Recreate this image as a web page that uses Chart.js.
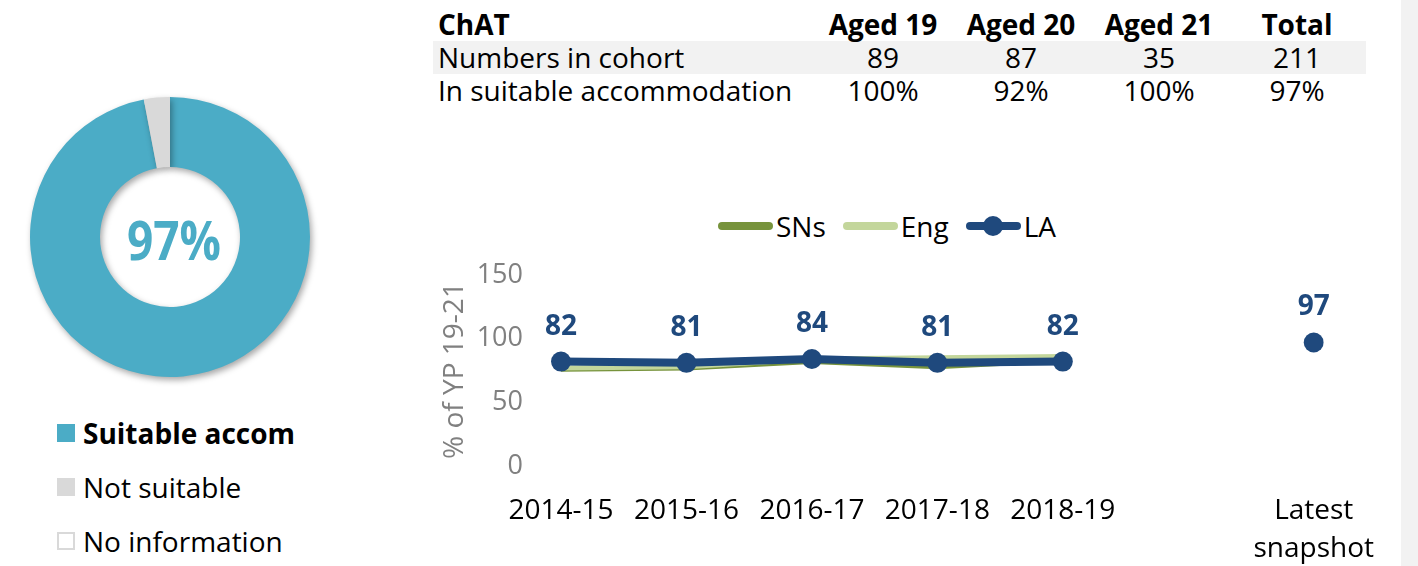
<!DOCTYPE html>
<html>
<head>
<meta charset="utf-8">
<script src="https://cdn.jsdelivr.net/npm/chart.js@4.4.1/dist/chart.umd.min.js"></script>
<style>
  html, body { margin: 0; padding: 0; background: #fff; }
  body { width: 1418px; height: 566px; position: relative; overflow: hidden;
         font-family: 'Open Sans', 'Noto Sans', sans-serif; color: #000; }
  #sideStrip { position: absolute; left: 1401px; top: 0; width: 17px; height: 566px; background: #f2f2f2; }
  #donutWrap { position: absolute; left: 20px; top: 87px; width: 300px; height: 300px; }
  #donutLegend { position: absolute; left: 57px; top: 406px; font-size: 28px; }
  #donutLegend .item { height: 54px; display: flex; align-items: center; }
  #donutLegend .box { width: 18px; height: 18px; margin-right: 8px; box-sizing: border-box; }
  #cohortTable { position: absolute; left: 433px; top: 8px; border-collapse: collapse; font-size: 28px; }
  #cohortTable td { padding: 0; height: 33px; line-height: 33px; white-space: nowrap; }
  #cohortTable td.num { width: 138px; text-align: center; }
  #cohortTable td.lbl { width: 376px; padding-left: 5px; }
  #cohortTable tr.hdr td { font-weight: bold; }
  #cohortTable tr.band td { background: #f2f2f2; }
  #lineLegend { position: absolute; left: 718px; top: 207px; font-size: 28px; display: flex; align-items: center; height: 38px; }
  #lineLegend .item { display: flex; align-items: center; margin-right: 17px; }
  #lineLegend .swatch { position: relative; width: 55px; height: 8px; border-radius: 4px; margin-right: 3px; }
  #lineLegend .dot { position: absolute; left: 17px; top: -6px; width: 20px; height: 20px; border-radius: 50%; }
  #lineWrap { position: absolute; left: 420px; top: 191px; width: 980px; height: 375px; }
</style>
</head>
<body>
<div id="sideStrip"></div>
<table id="cohortTable"></table>
<div id="donutWrap"><canvas id="donutChart"></canvas></div>
<div id="donutLegend"></div>
<div id="lineLegend"></div>
<div id="lineWrap"><canvas id="trendChart"></canvas></div>

<script>
// Cohort table
var tableTitle = 'ChAT';
var ageGroups = ['Aged 19', 'Aged 20', 'Aged 21', 'Total'];
var cohortNumbers = [89, 87, 35, 211];
var suitablePct = [100, 92, 100, 97];

// Accommodation split (latest)
var accomLabels = ['Suitable accom', 'Not suitable', 'No information'];
var accomValues = [97, 3, 0];
var accomColors = ['#4BACC6', '#D9D9D9', '#FFFFFF'];
var headlinePct = 97;

// Trend over years
var years = ['2014-15', '2015-16', '2016-17', '2017-18', '2018-19', '', ['Latest', 'snapshot']];
var snsValues = [76, 77, 82, 78, 83, null, null];
var engValues = [77, 78, 84, 85, 86, null, null];
var laValues  = [82, 81, 84, 81, 82, null, 97];
var yTicks = [0, 50, 100, 150];

var FONT = "'Open Sans', 'Noto Sans', sans-serif";
var LA_BLUE = '#1F497D';
var SNS_GREEN = '#77933C';
var ENG_GREEN = '#C3D69B';

// ---- table ----
function buildTable() {
  var t = document.getElementById('cohortTable');
  var rows = [
    { cls: 'hdr', label: tableTitle, cells: ageGroups },
    { cls: 'band', label: 'Numbers in cohort', cells: cohortNumbers },
    { cls: '', label: 'In suitable accommodation', cells: suitablePct.map(function (v) { return v + '%'; }) }
  ];
  rows.forEach(function (r) {
    var tr = document.createElement('tr');
    if (r.cls) tr.className = r.cls;
    var td = document.createElement('td');
    td.className = 'lbl';
    td.textContent = r.label;
    tr.appendChild(td);
    r.cells.forEach(function (c) {
      var cell = document.createElement('td');
      cell.className = 'num';
      cell.textContent = c;
      tr.appendChild(cell);
    });
    t.appendChild(tr);
  });
}

// ---- donut legend ----
function buildDonutLegend() {
  var box = document.getElementById('donutLegend');
  accomLabels.forEach(function (lbl, i) {
    var item = document.createElement('div');
    item.className = 'item';
    var sw = document.createElement('span');
    sw.className = 'box';
    sw.style.background = accomColors[i];
    if (accomColors[i] === '#FFFFFF') sw.style.border = '2px solid #D9D9D9';
    var tx = document.createElement('span');
    tx.textContent = lbl;
    if (i === 0) tx.style.fontWeight = 'bold';
    item.appendChild(sw);
    item.appendChild(tx);
    box.appendChild(item);
  });
}

// ---- line legend ----
function buildLineLegend() {
  var box = document.getElementById('lineLegend');
  var entries = [['SNs', SNS_GREEN, false], ['Eng', ENG_GREEN, false], ['LA', LA_BLUE, true]];
  entries.forEach(function (e) {
    var item = document.createElement('div');
    item.className = 'item';
    var sw = document.createElement('span');
    sw.className = 'swatch';
    sw.style.background = e[1];
    if (e[2]) {
      var dot = document.createElement('span');
      dot.className = 'dot';
      dot.style.background = e[1];
      sw.appendChild(dot);
    }
    var tx = document.createElement('span');
    tx.textContent = e[0];
    item.appendChild(sw);
    item.appendChild(tx);
    box.appendChild(item);
  });
}

// centre text + soft shadow for the donut
var donutExtras = {
  id: 'donutExtras',
  beforeDatasetsDraw: function (chart) {
    var ctx = chart.ctx;
    ctx.save();
    ctx.shadowColor = 'rgba(0,0,0,0.35)';
    ctx.shadowBlur = 6;
    ctx.shadowOffsetX = 2;
    ctx.shadowOffsetY = 3;
  },
  afterDatasetsDraw: function (chart) {
    var ctx = chart.ctx;
    ctx.restore();
    var arc = chart.getDatasetMeta(0).data[0];
    ctx.save();
    ctx.translate(arc.x + 4, arc.y + 8);
    ctx.scale(1, 1.18);
    ctx.font = 'bold 46px ' + FONT;
    ctx.fillStyle = accomColors[0];
    ctx.textAlign = 'center';
    ctx.textBaseline = 'middle';
    ctx.fillText(headlinePct + '%', 0, 0);
    ctx.restore();
  }
};

// value labels above the LA points
var laLabels = {
  id: 'laLabels',
  afterDatasetsDraw: function (chart) {
    var ctx = chart.ctx;
    var idx = 2;
    var meta = chart.getDatasetMeta(idx);
    ctx.save();
    ctx.font = 'bold 28px ' + FONT;
    ctx.fillStyle = LA_BLUE;
    ctx.textAlign = 'center';
    ctx.textBaseline = 'middle';
    meta.data.forEach(function (pt, i) {
      var v = chart.data.datasets[idx].data[i];
      if (v === null || v === undefined) return;
      ctx.fillText(v, pt.x, pt.y - 35);
    });
    ctx.restore();
  }
};

function initCharts() {
  Chart.defaults.font.family = FONT;
  Chart.defaults.font.size = 26;

  new Chart(document.getElementById('donutChart').getContext('2d'), {
    type: 'doughnut',
    data: {
      labels: accomLabels,
      datasets: [{
        data: accomValues,
        backgroundColor: accomColors,
        borderWidth: 0
      }]
    },
    options: {
      responsive: true,
      maintainAspectRatio: false,
      animation: false,
      cutout: '50%',
      layout: { padding: 10 },
      plugins: { legend: { display: false }, tooltip: { enabled: false } }
    },
    plugins: [donutExtras]
  });

  new Chart(document.getElementById('trendChart').getContext('2d'), {
    type: 'line',
    data: {
      labels: years,
      datasets: [
        { label: 'SNs', data: snsValues, borderColor: SNS_GREEN, backgroundColor: SNS_GREEN,
          borderWidth: 5, pointRadius: 0, order: 3 },
        { label: 'Eng', data: engValues, borderColor: ENG_GREEN, backgroundColor: ENG_GREEN,
          borderWidth: 5, pointRadius: 0, order: 2 },
        { label: 'LA', data: laValues, borderColor: LA_BLUE, backgroundColor: LA_BLUE,
          borderWidth: 8, pointRadius: 10, pointBorderWidth: 0, order: 1 }
      ]
    },
    options: {
      responsive: true,
      maintainAspectRatio: false,
      animation: false,
      layout: { padding: { top: 84, right: 80, left: 0, bottom: 0 } },
      plugins: { legend: { display: false }, tooltip: { enabled: false } },
      scales: {
        x: {
          offset: false,
          grid: { display: false, drawTicks: false },
          border: { display: false },
          ticks: { color: '#000', padding: 26, maxRotation: 0, autoSkip: false,
                   font: { size: 28, lineHeight: 1.36 } },
          afterFit: function (s) { s.height = 100; }
        },
        y: {
          min: 0, max: 150,
          afterBuildTicks: function (s) { s.ticks = yTicks.map(function (v) { return { value: v }; }); },
          grid: { display: false, drawTicks: false },
          border: { display: false },
          ticks: { color: '#808080', padding: 38, font: { size: 27 } },
          title: { display: true, text: '% of YP 19-21', color: '#808080',
                   font: { size: 28 }, padding: { top: 18, bottom: 0 } },
          afterFit: function (s) { s.width = 141; }
        }
      }
    },
    plugins: [laLabels]
  });
}

document.addEventListener('DOMContentLoaded', function () {
  buildTable();
  buildDonutLegend();
  buildLineLegend();
  if (typeof Chart !== 'undefined') {
    initCharts();
  }
});
</script>
</body>
</html>
